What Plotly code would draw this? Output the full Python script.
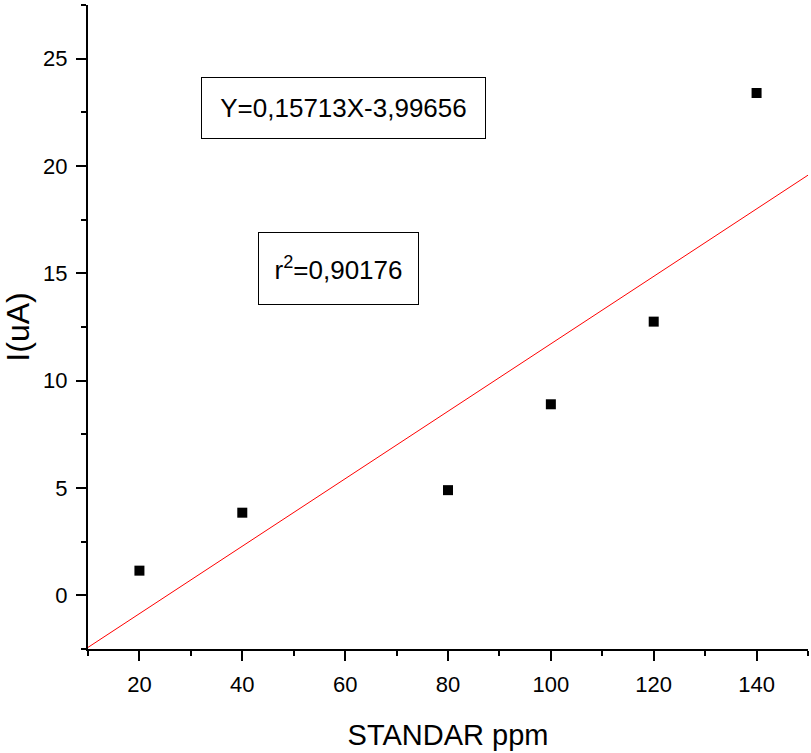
import plotly.graph_objects as go

# data
standar_ppm = [20, 40, 80, 100, 120, 140]
current_ua = [1.15, 3.85, 4.9, 8.9, 12.75, 23.4]
slope = 0.15713
intercept = -3.99656
fit_x = [10, 150]
fit_y = [slope * x + intercept for x in fit_x]
eq_text = "Y=0,15713X-3,99656"
r2_text = "r<sup>2</sup>=0,90176"

FONT = "Liberation Sans, Arial, sans-serif"

fig = go.Figure()
fig.add_trace(go.Scatter(x=fit_x, y=fit_y, mode="lines",
                         line=dict(color="#ff0000", width=1), showlegend=False,
                         cliponaxis=True))
fig.add_trace(go.Scatter(x=standar_ppm, y=current_ua, mode="markers",
                         marker=dict(symbol="square", size=10, color="black"),
                         showlegend=False))

axis_common = dict(showgrid=False, zeroline=False, showline=True,
                   linecolor="black", linewidth=2, ticks="outside",
                   ticklen=10, tickwidth=2, tickcolor="black",
                   tickfont=dict(family=FONT, size=22, color="black"))

fig.update_xaxes(range=[10, 150], tick0=0, dtick=20, ticklabelstandoff=5,
                 minor=dict(dtick=10, ticks="outside", ticklen=5, tickwidth=2, tickcolor="black"),
                 title=dict(text="STANDAR ppm", font=dict(family=FONT, size=29, color="black"),
                            standoff=28),
                 **axis_common)
fig.update_yaxes(range=[-2.5, 27.5], tick0=0, dtick=5, ticklabelstandoff=4,
                 minor=dict(dtick=2.5, ticks="outside", ticklen=5, tickwidth=2, tickcolor="black"),
                 title=dict(text="I(uA)", font=dict(family=FONT, size=32, color="black"),
                            standoff=8),
                 **axis_common)

fig.add_annotation(xref="paper", yref="paper", x=0.3549, y=0.840,
                   xanchor="center", yanchor="middle",
                   text=eq_text, showarrow=False,
                   font=dict(family=FONT, size=26, color="black"),
                   bordercolor="black", borderwidth=1, borderpad=0,
                   width=283, height=60, bgcolor="white")
fig.add_annotation(xref="paper", yref="paper", x=0.348, y=0.591,
                   xanchor="center", yanchor="middle",
                   text=r2_text, showarrow=False,
                   font=dict(family=FONT, size=26, color="black"),
                   bordercolor="black", borderwidth=1, borderpad=0,
                   width=159, height=71, bgcolor="white")

fig.update_layout(width=811, height=753,
                  margin=dict(l=88, r=3, t=5, b=104),
                  plot_bgcolor="white", paper_bgcolor="white")

fig.write_html("out.html")
